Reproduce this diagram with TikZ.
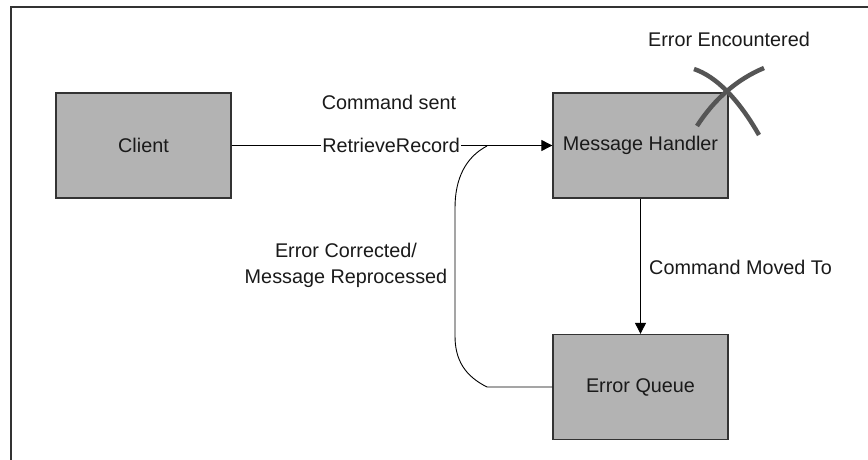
\documentclass[tikz,border=0pt]{standalone}
\usepackage{fontspec}
\setmainfont{Liberation Sans}
\usetikzlibrary{arrows.meta}
\definecolor{boxgray}{HTML}{B3B3B3}
\definecolor{edgegray}{HTML}{333333}
\definecolor{xgray}{HTML}{555555}
\definecolor{txt}{HTML}{1A1A1A}
\tikzset{
  procbox/.style={draw=edgegray, line width=1.3pt, fill=boxgray, minimum width=175pt, minimum height=105pt, inner sep=0pt, font=\fontsize{19.8}{23}\selectfont, text=txt},
  lbl/.style={font=\fontsize{19.8}{26}\selectfont, text=txt, inner sep=1pt},
  conn/.style={draw=black, line width=0.9pt},
  tip/.style={-{Triangle[length=11pt,width=11pt]}},
  xstroke/.style={draw=xgray, line width=4.5pt}
}
\begin{document}
\begin{tikzpicture}[x=1pt,y=-1pt]
\useasboundingbox (0,0) rectangle (868,460);
\fill[white] (0,0) rectangle (868,460);
\draw[draw=edgegray, line width=1.4pt] (11,462) -- (11,7) -- (870,7);

\node[procbox] (client) at (143.5,145.5) {Client};
\node[procbox] (mh) at (640.5,145.5) {Message Handler};
\node[procbox] (eq) at (640.5,387) {Error Queue};

\draw[conn, tip] (client.east) -- node[lbl, fill=white, pos=0.497] (rr) {RetrieveRecord} (mh.west);
\coordinate (j) at (487,146);
\draw[conn] (eq.west) -- (487,387) .. controls (465,376) and (455,360) .. (455,336) -- (455,208) .. controls (455,178) and (466,157) .. (j);
\draw[conn, tip] (mh.south) -- (eq.north);

\node[lbl] (cs) at (389,102) {Command sent};
\node[lbl] (ee) at (729,39) {Error Encountered};
\node[lbl, anchor=west] (cm) at (648,267) {Command Moved To};
\node[lbl, align=center] (ec) at (346,265) {Error Corrected/\\Message Reprocessed};

\draw[xstroke] (694,69) .. controls (715.7,76.3) and (738,98.3) .. (759,135);
\draw[xstroke] (764,68) .. controls (737,79.3) and (714.7,98.7) .. (697,126);
\end{tikzpicture}
\end{document}
